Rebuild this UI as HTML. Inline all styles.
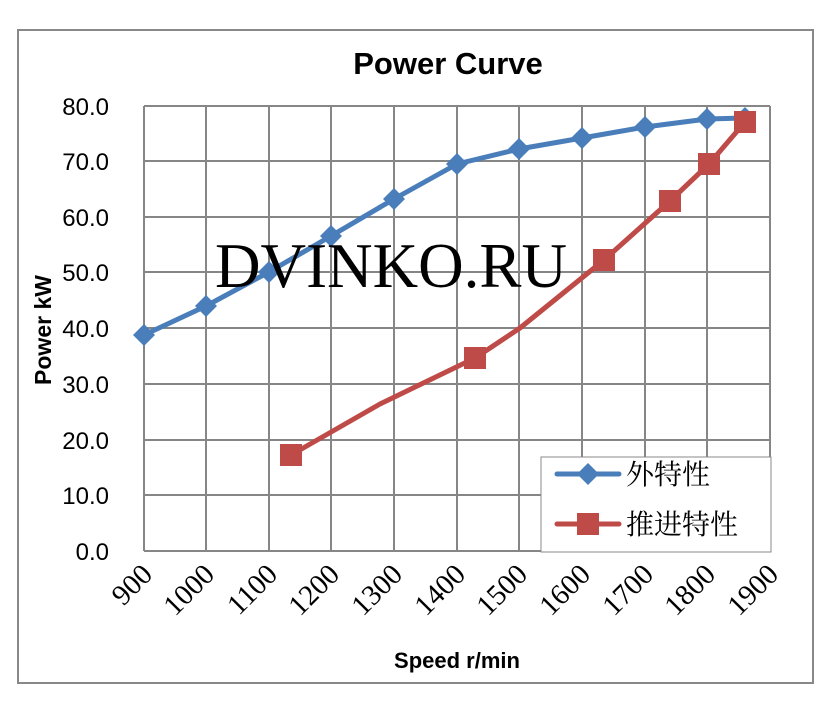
<!DOCTYPE html>
<html><head><meta charset="utf-8"><style>body{margin:0;background:#fff}</style></head><body>
<svg width="832" height="709" xmlns="http://www.w3.org/2000/svg">
<rect x="0" y="0" width="832" height="709" fill="#fff"/>
<rect x="18" y="30" width="795" height="653" fill="none" stroke="#888" stroke-width="2"/>
<text x="448" y="74" text-anchor="middle" font-family="Liberation Sans, sans-serif" font-weight="bold" font-size="31">Power Curve</text>
<g stroke="#868686" stroke-width="2">
<line x1="144" y1="551" x2="770" y2="551"/><line x1="144" y1="495" x2="770" y2="495"/><line x1="144" y1="440" x2="770" y2="440"/><line x1="144" y1="384" x2="770" y2="384"/><line x1="144" y1="328" x2="770" y2="328"/><line x1="144" y1="272" x2="770" y2="272"/><line x1="144" y1="217" x2="770" y2="217"/><line x1="144" y1="161" x2="770" y2="161"/><line x1="144" y1="106" x2="770" y2="106"/>
<line x1="144" y1="106" x2="144" y2="551"/><line x1="206" y1="106" x2="206" y2="551"/><line x1="269" y1="106" x2="269" y2="551"/><line x1="331" y1="106" x2="331" y2="551"/><line x1="394" y1="106" x2="394" y2="551"/><line x1="457" y1="106" x2="457" y2="551"/><line x1="519" y1="106" x2="519" y2="551"/><line x1="582" y1="106" x2="582" y2="551"/><line x1="645" y1="106" x2="645" y2="551"/><line x1="707" y1="106" x2="707" y2="551"/><line x1="770" y1="106" x2="770" y2="551"/>
</g>
<g font-family="Liberation Sans, sans-serif" font-size="24" text-anchor="end">
<text x="109" y="560">0.0</text><text x="109" y="504">10.0</text><text x="109" y="449">20.0</text><text x="109" y="393">30.0</text><text x="109" y="337">40.0</text><text x="109" y="281">50.0</text><text x="109" y="226">60.0</text><text x="109" y="170">70.0</text><text x="109" y="115">80.0</text>
</g>
<text transform="translate(51,330) rotate(-90)" text-anchor="middle" font-family="Liberation Sans, sans-serif" font-weight="bold" font-size="23">Power  kW</text>
<g font-family="Liberation Serif, serif" font-size="29" text-anchor="end">
<text transform="translate(154,576) rotate(-45)">900</text>
<text transform="translate(216,576) rotate(-45)">1000</text>
<text transform="translate(279,576) rotate(-45)">1100</text>
<text transform="translate(341,576) rotate(-45)">1200</text>
<text transform="translate(404,576) rotate(-45)">1300</text>
<text transform="translate(467,576) rotate(-45)">1400</text>
<text transform="translate(529,576) rotate(-45)">1500</text>
<text transform="translate(592,576) rotate(-45)">1600</text>
<text transform="translate(655,576) rotate(-45)">1700</text>
<text transform="translate(717,576) rotate(-45)">1800</text>
<text transform="translate(780,576) rotate(-45)">1900</text>
</g>
<text x="457" y="668" text-anchor="middle" font-family="Liberation Sans, sans-serif" font-weight="bold" font-size="22">Speed r/min</text>
<polyline fill="none" stroke="#4a7ebb" stroke-width="5" stroke-linejoin="round" points="144,335 206,306 269,272 331,236 394,199 457,164 519,149 582,138 645,127 707,119 745,118"/>
<g fill="#4a7ebb">
<path d="M144,324l11,11l-11,11l-11,-11z"/><path d="M206,295l11,11l-11,11l-11,-11z"/><path d="M269,261l11,11l-11,11l-11,-11z"/><path d="M331,225l11,11l-11,11l-11,-11z"/><path d="M394,188l11,11l-11,11l-11,-11z"/><path d="M457,153l11,11l-11,11l-11,-11z"/><path d="M519,138l11,11l-11,11l-11,-11z"/><path d="M582,127l11,11l-11,11l-11,-11z"/><path d="M645,116l11,11l-11,11l-11,-11z"/><path d="M707,108l11,11l-11,11l-11,-11z"/><path d="M745,107l11,11l-11,11l-11,-11z"/>
</g>
<polyline fill="none" stroke="#be4b48" stroke-width="5" stroke-linejoin="round" points="291,455 380,404 475,358 520,328 604,260 670,201 709,164 745,122"/>
<g fill="#be4b48">
<rect x="280" y="444" width="22" height="22"/><rect x="464" y="347" width="22" height="22"/><rect x="593" y="249" width="22" height="22"/><rect x="659" y="190" width="22" height="22"/><rect x="698" y="153" width="22" height="22"/><rect x="734" y="111" width="22" height="22"/>
</g>
<text x="391" y="287" text-anchor="middle" font-family="Liberation Serif, serif" font-size="64" textLength="352" lengthAdjust="spacingAndGlyphs">DVINKO.RU</text>
<rect x="541" y="457" width="230" height="95" fill="#fff" stroke="#888" stroke-width="1"/>
<line x1="557" y1="474" x2="619" y2="474" stroke="#4a7ebb" stroke-width="5" stroke-linecap="round"/>
<path d="M588,463l11,11l-11,11l-11,-11z" fill="#4a7ebb"/>
<line x1="557" y1="524" x2="619" y2="524" stroke="#be4b48" stroke-width="5" stroke-linecap="round"/>
<rect x="577" y="513" width="22" height="22" fill="#be4b48"/>
<g font-family="Liberation Serif, 'Noto Serif CJK SC', serif" font-size="28">
<text x="626" y="484">外特性</text><text x="626" y="534">推进特性</text>
</g>
</svg>
</body></html>
